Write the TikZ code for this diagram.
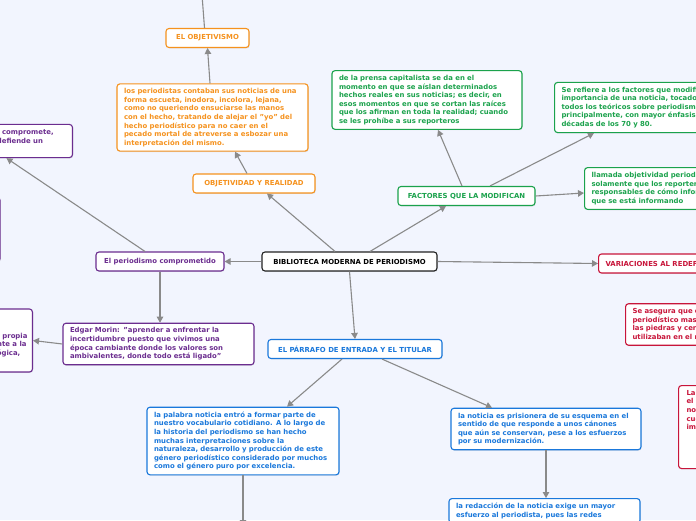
\documentclass[tikz,border=0pt]{standalone}
\usepackage{fontspec}
\setsansfont{DejaVu Sans}
\usetikzlibrary{arrows.meta,shadows,calc}
\definecolor{bgc}{HTML}{F2F5FE}
\definecolor{orng}{HTML}{F5921E}
\definecolor{purp}{HTML}{6B2D8F}
\definecolor{grn}{HTML}{1BA24C}
\definecolor{blu}{HTML}{1A78DB}
\definecolor{rd}{HTML}{C8153A}
\definecolor{connc}{HTML}{8A8A8A}
\definecolor{blk}{HTML}{222222}
\begin{document}
\begin{tikzpicture}[x=1pt,y=-1pt,
  box/.style={draw, fill=white, rounded corners=3pt, line width=1.1pt, inner xsep=7pt, inner ysep=4.5pt,
    font=\sffamily\bfseries\fontsize{6.9}{8.6}\selectfont,
    drop shadow={shadow xshift=0.7pt, shadow yshift=-0.9pt, opacity=0.2}},
  para/.style={box, align=left},
  ttl/.style={box, align=center, minimum height=19pt},
  orbox/.style={draw=orng, text=orng},
  pubox/.style={draw=purp, text=purp},
  grbox/.style={draw=grn, text=grn},
  blbox/.style={draw=blu, text=blu},
  rdbox/.style={draw=rd, text=rd},
  conn/.style={draw=connc, line width=1.1pt, -{Triangle[length=6pt,width=6.5pt]}},
  plain/.style={draw=connc, line width=1.1pt}
]
\useasboundingbox (0,0) rectangle (696,520);
\fill[bgc] (0,0) rectangle (696,520);
\clip (0,0) rectangle (696,520);

% central
\node[ttl, draw=blk, text=black, minimum width=175pt] (central) at (349.5,261.5) {BIBLIOTECA MODERNA DE PERIODISMO};

% orange branch
\node[ttl, orbox, minimum width=83pt] (objetivismo) at (207.5,38) {EL OBJETIVISMO};
\node[para, orbox, text width=177pt] (para1) at (212.5,117.5) {los periodistas contaban sus noticias de una\\
forma escueta, inodora, incolora, lejana,\\
como no queriendo ensuciarse las manos\\
con el hecho, tratando de alejar el "yo" del\\
hecho periodístico para no caer en el\\
pecado mortal de atreverse a esbozar una\\
interpretación del mismo.};
\node[ttl, orbox, minimum width=122pt] (objreal) at (254,183.5) {OBJETIVIDAD Y REALIDAD};
\coordinate (topout) at (201.5,-12);

% purple branch
\node[ttl, pubox, minimum width=128pt] (comprom) at (160,261.5) {El periodismo comprometido};
\node[para, pubox, text width=177pt, anchor=east] (ulpurple) at (73,141) {el periodismo en el que él se compromete,\\
toma partido, asume retos, defiende un\\
ideal político.};
\node[box, pubox, minimum width=150pt, minimum height=65pt, anchor=east] (lpurple1) at (0.5,229.5) {};
\node[para, pubox, text width=177pt] (edgar) at (158.5,344) {Edgar Morin: "aprender a enfrentar la\\
incertidumbre puesto que vivimos una\\
época cambiante donde los valores son\\
ambivalentes, donde todo está ligado"};
\node[para, pubox, inner xsep=5pt, anchor=east, minimum height=63pt] (lpurple2) at (33,340.5) {El periodista debe tener\\
una visión crítica y una ética propia\\
que lo haga responsable frente a la\\
sociedad y su realidad ideológica,};

% blue branch
\node[ttl, blbox, minimum width=174pt] (parrafo) at (355,349) {EL PÁRRAFO DE ENTRADA Y EL TITULAR};
\node[para, blbox, text width=178pt] (noticia1) at (243,441) {la palabra noticia entró a formar parte de\\
nuestro vocabulario cotidiano. A lo largo de\\
la historia del periodismo se han hecho\\
muchas interpretaciones sobre la\\
naturaleza, desarrollo y producción de este\\
género periodístico considerado por muchos\\
como el género puro por excelencia.};
\node[para, blbox, text width=176pt] (prision) at (546,429) {la noticia es prisionera de su esquema en el\\
sentido de que responde a unos cánones\\
que aún se conservan, pese a los esfuerzos\\
por su modernización.};
\node[para, blbox, text width=177pt, anchor=north] (redac) at (544.5,498) {la redacción de la noticia exige un mayor\\
esfuerzo al periodista, pues las redes};
\coordinate (botout) at (243,526);

% green branch
\node[ttl, grbox, minimum width=137pt] (factores) at (466.5,196) {FACTORES QUE LA MODIFICAN};
\node[para, grbox, text width=176pt] (prensa) at (427,100) {de la prensa capitalista se da en el\\
momento en que se aíslan determinados\\
hechos reales en sus noticias; es decir, en\\
esos momentos en que se cortan las raíces\\
que los afirman en toda la realidad; cuando\\
se les prohíbe a sus reporteros};
\node[para, grbox, text width=177pt, anchor=west] (serefiere) at (554,107.5) {Se refiere a los factores que modifican la\\
importancia de una noticia, tocados por\\
todos los teóricos sobre periodismo,\\
principalmente, con mayor énfasis en las\\
décadas de los 70 y 80.};
\node[para, grbox, text width=177pt, anchor=west] (llamada) at (584,188.5) {llamada objetividad periodística, no\\
solamente que los reporteros sean\\
responsables de cómo informan, sino de lo\\
que se está informando};

% red branch
\node[ttl, rdbox, anchor=west] (variaciones) at (598,263.5) {VARIACIONES AL REDEFINIR LA NOTICIA};
\node[para, rdbox, text width=177pt, anchor=west] (asegura) at (625,324.5) {Se asegura que el relato informativo\\
periodístico masivo se remonta a\\
las piedras y cerámicas que se\\
utilizaban en el mundo antiguo};
\node[box, rdbox, inner xsep=8pt, anchor=north west] (rdbox3) at (678,385) {\begin{minipage}[c][74pt][t]{177pt}\raggedright
La noticia ha evolucionado con\\
el tiempo y hoy en día\\
no solo informa del hecho, sino\\
cuenta su contexto y su\\
impacto social.\end{minipage}};

% connectors
\draw[conn] ([xshift=-14.5pt]central.north) -- ([xshift=13pt]objreal.south);
\draw[conn] ([xshift=-7pt]objreal.north) -- ([xshift=22.5pt]para1.south);
\draw[conn] ([xshift=-2.5pt]para1.north) -- (objetivismo.south);
\draw[plain] ([xshift=-3pt]objetivismo.north) -- (topout);
\draw[conn] (central.west) -- (comprom.east);
\draw[conn] ([xshift=-15pt]comprom.north) -- ([xshift=29.5pt]ulpurple.south);
\draw[conn] (comprom.south) -- (comprom.south |- edgar.north);
\draw[conn] (edgar.west) -- (lpurple2.east);
\draw[conn] (central.south) -- (parrafo.north);
\draw[conn] ([xshift=-13pt]parrafo.south) -- ([xshift=44pt]noticia1.north);
\draw[conn] ([xshift=27pt]parrafo.south) -- ([xshift=-54pt]prision.north);
\draw[conn] (noticia1.south) -- (botout);
\draw[conn] (prision.south) -- (prision.south |- redac.north);
\draw[conn] ([xshift=20.5pt]central.north) -- ([xshift=-20.5pt]factores.south);
\draw[conn] ([xshift=-4.5pt]factores.north) -- ([xshift=11pt]prensa.south);
\draw[conn] ([xshift=23.5pt]factores.north) -- ([xshift=40pt]serefiere.south west);
\draw[conn] (factores.east) -- ([yshift=-4.5pt]llamada.west);
\draw[conn] (central.east) -- (variaciones.west);
\end{tikzpicture}
\end{document}
